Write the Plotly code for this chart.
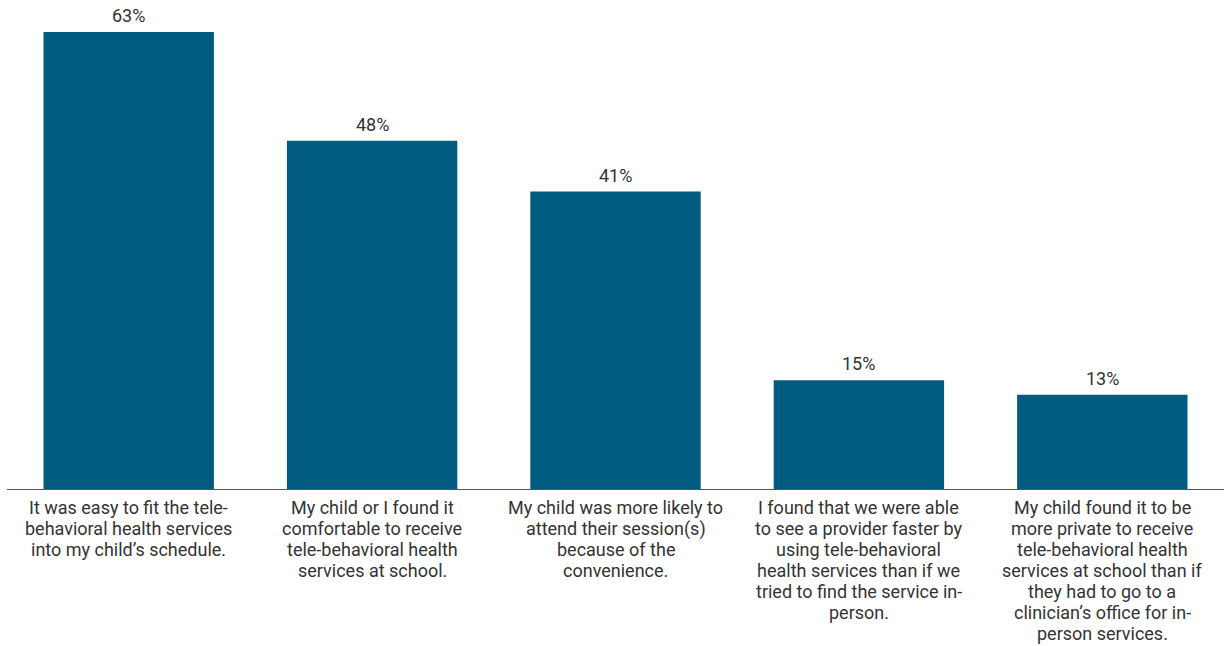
import plotly.graph_objects as go

categories = ["A", "B", "C", "D", "E"]
category_lines = [
    ["It was easy to fit the tele-", "behavioral health services", "into my child’s schedule."],
    ["My child or I found it", "comfortable to receive", "tele-behavioral health", "services at school."],
    ["My child was more likely to", "attend their session(s)", "because of the", "convenience."],
    ["I found that we were able", "to see a provider faster by", "using tele-behavioral",
     "health services than if we", "tried to find the service in-", "person."],
    ["My child found it to be", "more private to receive", "tele-behavioral health",
     "services at school than if", "they had to go to a", "clinician’s office for in-", "person services."],
]
values = [63, 48, 41, 15, 13]
value_labels = [f"{v}%" for v in values]

TEXT_FONT = dict(family="Roboto", size=18, color="#333333")

fig = go.Figure(
    go.Bar(
        x=categories,
        y=values,
        marker=dict(color="#005B80", line=dict(width=0)),
        cliponaxis=False,
        hoverinfo="skip",
    )
)

annotations = []
# value labels above each bar
for cat, v, lab in zip(categories, values, value_labels):
    annotations.append(dict(
        x=cat, y=v, xref="x", yref="y", text=lab, showarrow=False,
        yanchor="bottom", yshift=4, font=TEXT_FONT,
    ))
# wrapped category labels under the axis, one line per annotation
LINE_H = 21
for cat, lines in zip(categories, category_lines):
    for i, line in enumerate(lines):
        annotations.append(dict(
            x=cat, y=0, xref="x", yref="y", text=line, showarrow=False,
            yanchor="top", yshift=-6 - LINE_H * i, font=TEXT_FONT,
        ))

fig.update_layout(
    width=1225,
    height=646,
    margin=dict(l=7, r=1, t=32, b=157),
    plot_bgcolor="white",
    paper_bgcolor="white",
    bargap=0.3,
    showlegend=False,
    font=TEXT_FONT,
    annotations=annotations,
)
fig.update_xaxes(
    showline=True,
    linecolor="#555555",
    linewidth=1,
    ticks="",
    showticklabels=False,
)
fig.update_yaxes(
    range=[0, 63],
    visible=False,
    showgrid=False,
)

fig.write_html("out.html")
